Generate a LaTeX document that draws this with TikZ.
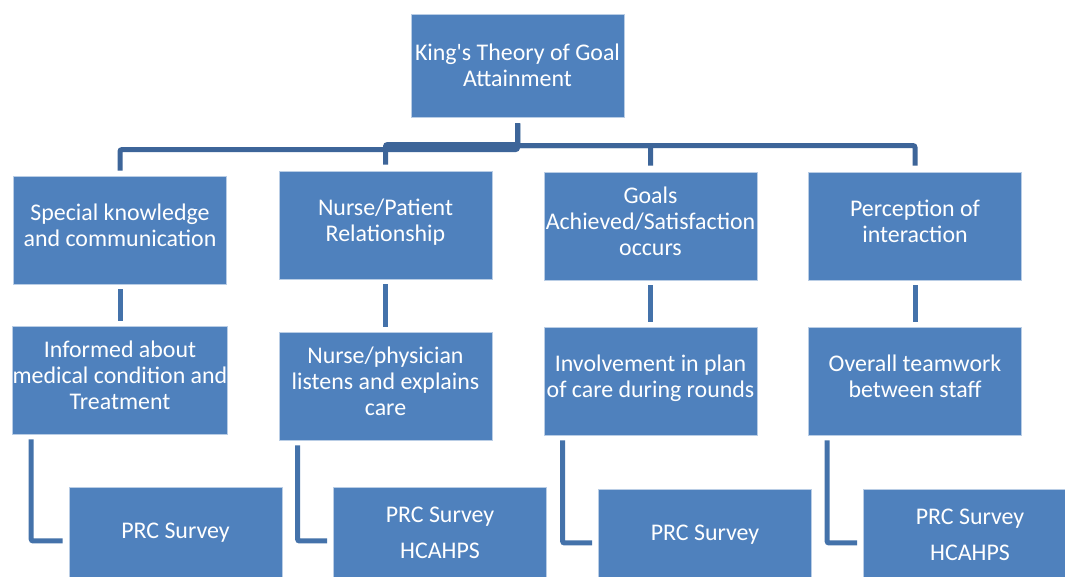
\documentclass[tikz,border=0pt]{standalone}
\usepackage{fontspec}
\setmainfont{Carlito}
\usetikzlibrary{calc}
\definecolor{boxblue}{HTML}{4F81BD}
\definecolor{linkblue}{HTML}{4472AA}
\definecolor{busblue}{HTML}{3D6599}

\begin{document}
\begin{tikzpicture}[x=0.02cm, y=0.02cm]
\tikzset{
    box/.style={rectangle, draw=white!60!boxblue, line width=0.5pt, fill=boxblue,
        text=white, align=center, inner sep=0pt, minimum width=213*0.02cm,
        minimum height=108*0.02cm, font=\fontsize{13.6}{14.8}\selectfont},
    item/.style={box, text depth=5.7pt},
    survey/.style={box, minimum height=92*0.02cm},
    link/.style={draw=linkblue, line width=5*0.02cm},
    bus/.style={draw=busblue, line width=5*0.02cm, rounded corners=2*0.02cm}
}
\clip (0,0) rectangle (1065,577);
\fill[white] (0,0) rectangle (1065,577);

% top node
\node[box, minimum height=103*0.02cm] (top) at (517.5,511.5) {King\textquotesingle s Theory of Goal\\Attainment};

% first row
\node[item] (A) at (120,347) {Special knowledge\\and communication};
\node[item] (B) at (385.5,352) {Nurse/Patient\\Relationship};
\node[item] (C) at (650.5,351) {Goals\\Achieved/Satisfaction\\occurs};
\node[item] (D) at (915,351) {Perception of\\interaction};

% second row
\node[item] (A2) at (120,197) {Informed about\\medical condition and\\Treatment};
\node[item] (B2) at (385.5,191) {Nurse/physician\\listens and explains\\care};
\node[item] (C2) at (650.5,196) {Involvement in plan\\of care during rounds};
\node[item] (D2) at (915,196) {Overall teamwork\\between staff};

% third row
\node[survey] (A3) at (175.5,44) {PRC Survey};
\node[survey] (B3) at (440,44) {PRC Survey\\[6pt]HCAHPS};
\node[survey] (C3) at (705,42) {PRC Survey};
\node[survey] (D3) at (970,42) {PRC Survey\\[6pt]HCAHPS};

% bus from the top node
\draw[bus] ($(top.south)+(0,-6)$) |- ($(A.north)+(0,26)$) -- ($(A.north)+(0,5)$);
\foreach \c in {B,C,D}
    \draw[bus] ($(top.south)+(0,-6)$) |- ($(\c.north)+(0,26)$) -- ($(\c.north)+(0,6)$);

% first row to second row
\foreach \c in {A,B,C,D}
    \draw[link] ($(\c.south)+(0,-5)$) -- ($(\c2.north)+(0,5)$);

% second row to third row
\foreach \c in {A,B,C,D}
    \draw[link, rounded corners=2*0.02cm] ($(\c2.south west)+(19,-5)$) |- ($(\c3.west)+(-6,-8)$);
\end{tikzpicture}
\end{document}
